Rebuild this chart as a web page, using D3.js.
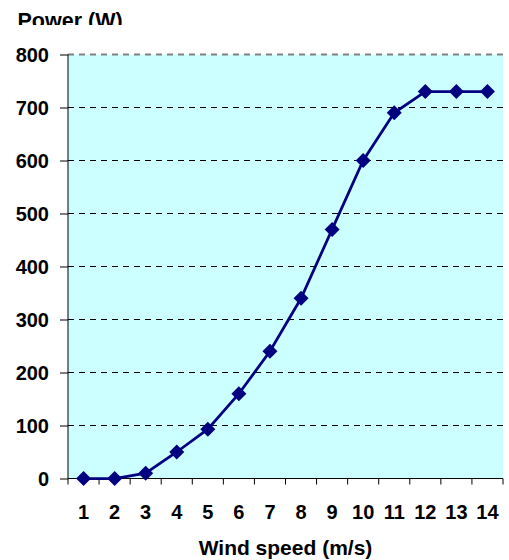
<!DOCTYPE html>
<html><head><meta charset="utf-8">
<script src="https://cdn.jsdelivr.net/npm/d3@7"></script>
<style>body{margin:0;background:#fff}svg{display:block}text{font-family:"Liberation Sans",Arial,sans-serif;font-weight:bold;fill:#000}</style>
</head><body>
<script>
const windSpeeds = [1,2,3,4,5,6,7,8,9,10,11,12,13,14];
const powerValues = [0,0,10,50,93,160,240,340,470,600,690,730,730,730];
const yTicks = [0,100,200,300,400,500,600,700,800];
const yTitle = "Power (W)";
const xTitle = "Wind speed (m/s)";

const W = 509, H = 560;
const m = {left:68, right:6, top:54.5, bottom:81.5};
const svg = d3.select("body").append("svg").attr("width",W).attr("height",H);
const x = d3.scaleBand().domain(windSpeeds).range([m.left, W-m.right]);
const y = d3.scaleLinear().domain([0,800]).range([H-m.bottom, m.top]);

svg.append("rect").attr("x",m.left).attr("y",m.top).attr("width",W-m.right-m.left).attr("height",H-m.bottom-m.top).attr("fill","#CCFFFF");

// gridlines
svg.append("g").selectAll("line").data(yTicks.filter(d=>d>0)).join("line")
  .attr("x1",m.left).attr("x2",W-m.right)
  .attr("y1",d=>y(d)).attr("y2",d=>y(d))
  .attr("stroke",d=>d===800?"#808080":"#000")
  .attr("stroke-width",d=>d===800?2:1)
  .attr("stroke-dasharray","6,5");

// y axis
const ya = svg.append("g").attr("transform",`translate(${m.left},0)`)
  .call(d3.axisLeft(y).tickValues(yTicks).tickSize(8).tickPadding(11));
ya.attr("font-size",null).attr("font-family",null);
ya.select(".domain").attr("stroke","#000").attr("d",`M0,${y(800)}V${y(0)}`);
ya.selectAll(".tick line").attr("stroke","#000");
ya.selectAll("text").style("font-size","20px").attr("dy","0.36em");

// x axis
const xa = svg.append("g").attr("transform",`translate(0,${y(0)})`)
  .call(d3.axisBottom(x).tickSize(0));
xa.attr("font-size",null).attr("font-family",null);
xa.select(".domain").attr("stroke","#000").attr("d",`M${m.left},0H${W-m.right}`);
xa.selectAll("text").style("font-size","20px").attr("y",40.5).attr("dy",0);
xa.append("g").selectAll("line").data(windSpeeds).join("line")
  .attr("x1",d=>x(d)+x.bandwidth()).attr("x2",d=>x(d)+x.bandwidth())
  .attr("y1",0).attr("y2",6).attr("stroke","#000");
xa.append("line").attr("x1",m.left).attr("x2",m.left).attr("y1",0).attr("y2",6).attr("stroke","#000");

// line
const cx = d => x(d)+x.bandwidth()/2;
svg.append("path").datum(windSpeeds.map((d,i)=>[d,powerValues[i]]))
  .attr("fill","none").attr("stroke","#000080").attr("stroke-width",2.75)
  .attr("d",d3.line().x(d=>cx(d[0])).y(d=>y(d[1])));
svg.append("g").selectAll("path").data(windSpeeds.map((d,i)=>[d,powerValues[i]])).join("path")
  .attr("transform",d=>`translate(${cx(d[0])},${y(d[1])})`)
  .attr("d","M0,-7.5L7.5,0L0,7.5L-7.5,0Z").attr("fill","#000080");

// titles
svg.append("defs").append("clipPath").attr("id","tc").append("rect").attr("x",0).attr("y",0).attr("width",200).attr("height",25);
svg.append("text").attr("x",17.5).attr("y",27.7).attr("clip-path","url(#tc)").style("font-size","21.5px").text(yTitle);
svg.append("text").attr("x",(m.left+W-m.right)/2).attr("y",555).attr("text-anchor","middle").style("font-size","21px").text(xTitle);
</script>
</body></html>
